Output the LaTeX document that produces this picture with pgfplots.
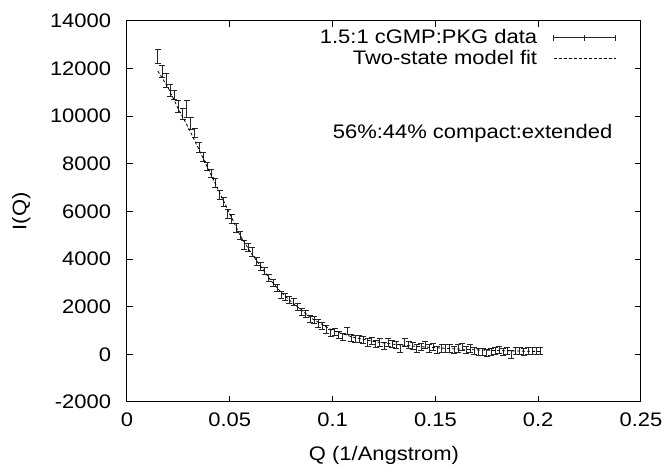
\documentclass[border=0pt]{standalone}
\usepackage{fontspec}
\setmainfont{Liberation Sans}[FakeStretch=1.12]
\usepackage{pgfplots}
\pgfplotsset{compat=1.18}

\pgfplotstableread{
q      I      e
0.015  12500  300
0.017  11900  250
0.019  11500  300
0.021  11100  250
0.023  10900  200
0.025  10400  250
0.027  10100  250
0.029  10300  350
0.031  9700   250
0.033  9300   200
0.035  8700   200
0.037  8300   180
0.039  7900   180
0.041  7600   180
0.043  7200   180
0.045  6700   180
0.047  6400   180
0.049  5900   180
0.051  5700   180
0.053  5300   180
0.055  5000   180
0.057  4600   180
0.059  4500   180
0.061  4300   180
0.063  3900   180
0.065  3700   180
0.067  3500   150
0.069  3200   150
0.071  3000   150
0.073  2800   150
0.075  2500   150
0.077  2400   150
0.079  2300   150
0.081  2200   150
0.083  2000   150
0.085  1800   150
0.087  1700   150
0.089  1500   150
0.091  1450   150
0.093  1300   150
0.095  1200   150
0.097  1050   150
0.099  900    150
0.101  950    150
0.103  800    150
0.105  750    150
0.107  1000   150
0.109  700    150
0.111  650    150
0.113  650    150
0.115  600    150
0.117  500    150
0.119  550    150
0.121  450    150
0.123  500    150
0.125  350    150
0.127  500    150
0.129  450    150
0.131  400    150
0.133  250    150
0.135  500    150
0.137  400    150
0.139  350    150
0.141  250    150
0.143  300    150
0.145  400    150
0.147  250    150
0.149  300    150
0.151  200    150
0.153  250    150
0.155  250    150
0.157  250    150
0.159  200    150
0.161  250    150
0.163  300    150
0.165  200    150
0.167  250    150
0.169  150    150
0.171  100    150
0.173  100    150
0.175  50     150
0.177  100    150
0.179  150    150
0.181  200    150
0.183  100    150
0.185  150    150
0.187  0      150
0.189  150    150
0.191  150    150
0.193  100    150
0.195  150    150
0.197  150    150
0.199  150    150
0.201  150    150
}\datatab

\pgfplotstableread{
q      I
0.015  11900
0.020  11200
0.025  10300
0.030  9500
0.035  8600
0.040  7700
0.045  6800
0.050  5900
0.055  5000
0.060  4300
0.065  3700
0.070  3100
0.075  2600
0.080  2200
0.085  1850
0.090  1500
0.095  1250
0.100  1000
0.110  720
0.120  540
0.130  420
0.140  340
0.150  280
0.160  230
0.170  190
0.180  160
0.190  140
0.201  120
}\fittab

\begin{document}
\begin{tikzpicture}
\fontsize{9.8}{11.25}\selectfont
\begin{axis}[
  scale only axis,
  width=257pt, height=190.5pt,
  xmin=0, xmax=0.25, ymin=-2000, ymax=14000,
  xtick={0,0.05,0.1,0.15,0.2,0.25},
  ytick={-2000,0,2000,4000,6000,8000,10000,12000,14000},
  xticklabels={0,0.05,0.1,0.15,0.2,0.25},
  scaled ticks=false,
  /pgf/number format/assume math mode=true,
  yticklabel style={/pgf/number format/fixed, /pgf/number format/1000 sep={}},
  tick align=inside, major tick length=3pt,
  tick style={black, line width=0.5pt},
  axis line style={line width=0.5pt},
  tick label style={font=\fontsize{9.8}{11.25}\selectfont},
  label style={font=\fontsize{9.8}{11.25}\selectfont},
  xticklabel style={yshift=-2pt},
  yticklabel style={xshift=-4.5pt},
  xlabel={Q (1/Angstrom)},
  ylabel={I(Q)},
  xlabel style={yshift=-3pt},
  ylabel style={yshift=3pt},
  legend style={draw=none, fill=none, at={(0.952,0.985)}, anchor=north east,
    font=\fontsize{9.8}{11.25}\selectfont, row sep=0pt, inner sep=0pt,
    nodes={inner xsep=3pt, inner ysep=1pt}},
  legend cell align=right,
  legend plot pos=right,
]
\addplot[draw=none, mark=none, black!85, line width=0.4pt,
  legend image code/.code={
    \path (0,0);
    \draw[line width=0.4pt] (5pt,0) -- (36pt,0);
    \draw[line width=0.4pt] (5pt,-1.5pt) -- (5pt,1.5pt);
    \draw[line width=0.4pt] (20.5pt,-1.5pt) -- (20.5pt,1.5pt);
    \draw[line width=0.4pt] (36pt,-1.5pt) -- (36pt,1.5pt);},
  error bars/.cd, y dir=both, y explicit,
  error bar style={line width=0.4pt, black!85},
  error mark options={rotate=90, mark size=1.5pt, line width=0.4pt, black!85}
] table[x=q, y=I, y error=e] {\datatab};
\addlegendentry{1.5:1 cGMP:PKG data}
\addplot[black, line width=0.4pt, dash pattern=on 1.5pt off 1pt, mark=none,
  legend image code/.code={
    \path (0,0);
    \draw[line width=0.4pt, dash pattern=on 1.5pt off 1pt] (5pt,0) -- (36pt,0);}
] table[x=q, y=I] {\fittab};
\addlegendentry{Two-state model fit}
\node[anchor=east, inner sep=0pt] at (axis description cs:0.945,0.706) {56\%:44\% compact:extended};
\end{axis}
\pgfresetboundingbox
\path[use as bounding box] (current axis.south west) ++(-63.5pt,-33.5pt) rectangle ([shift={(12.5pt,10.5pt)}]current axis.north east);
\end{tikzpicture}
\end{document}
